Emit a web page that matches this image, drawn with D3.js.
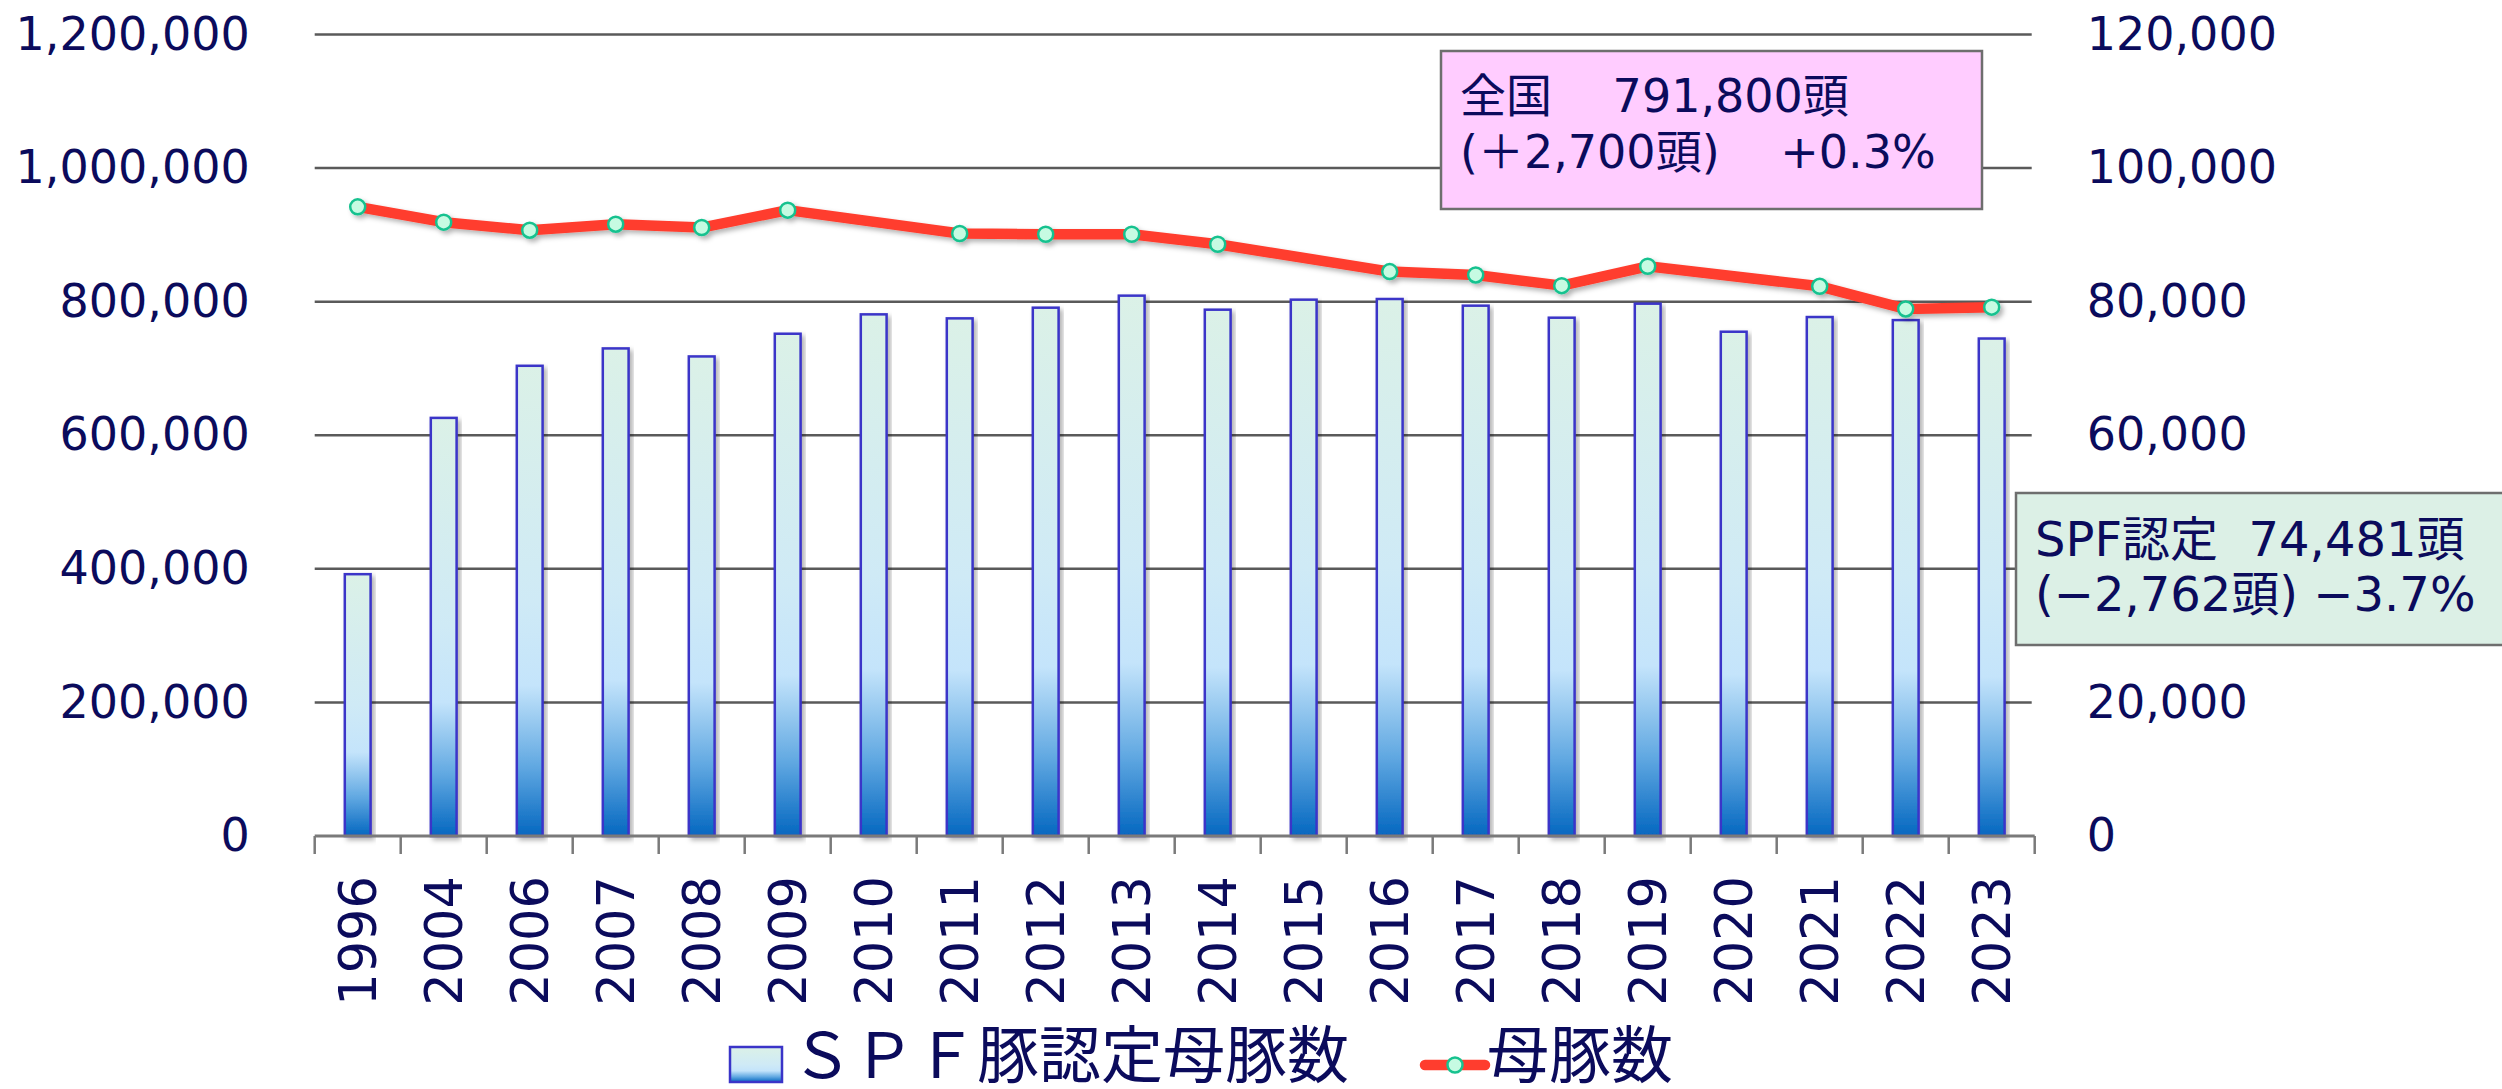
<!DOCTYPE html>
<html>
<head>
<meta charset="utf-8">
<script src="https://cdn.jsdelivr.net/npm/d3@7"></script>
<style>
  body { margin: 0; background: #fff; }
  svg { display: block; }
  text { font-family: "DejaVu Sans", "Noto Sans CJK JP", sans-serif; fill: #0b0b5c; }
  .box-text { white-space: pre; }
</style>
</head>
<body>
<svg width="2502" height="1089"></svg>
<script>
// 年次
const years = ['1996', '2004', '2006', '2007', '2008', '2009', '2010', '2011', '2012', '2013',
               '2014', '2015', '2016', '2017', '2018', '2019', '2020', '2021', '2022', '2023'];
// SPF豚認定母豚数 (right axis)
const spfSows = [39200, 62600, 70400, 73000, 71800, 75200, 78100, 77500, 79100, 80900,
                 78800, 80300, 80400, 79400, 77600, 79700, 75500, 77700, 77243, 74481];
// 母豚数 全国 (left axis), no survey in 2010 / 2015 / 2020
const allSows = [942000, 919000, 907000, 916000, 911000, 937000, null, 902000, 901000, 901000,
                 886000, null, 845000, 840000, 824000, 853000, null, 823000, 789100, 791800];
const leftTicks = [0, 200000, 400000, 600000, 800000, 1000000, 1200000];
const rightTicks = [0, 20000, 40000, 60000, 80000, 100000, 120000];

const boxAll = ['全国　 791,800頭', '(＋2,700頭)　 +0.3%'];
const boxSpf = ['SPF認定  74,481頭', '(−2,762頭) −3.7%'];

const svg = d3.select('svg');
const plot = {l: 314.7, r: 2034.7, t: 34.5, b: 836};

const x = d3.scaleBand().domain(years).range([plot.l, plot.r]);
const yL = d3.scaleLinear().domain([0, 1200000]).range([plot.b, plot.t]);
const yR = d3.scaleLinear().domain([0, 120000]).range([plot.b, plot.t]);

const defs = svg.append('defs');
const grad = defs.append('linearGradient')
    .attr('id', 'barGrad')
    .attr('x1', 0).attr('y1', 0).attr('x2', 0).attr('y2', 1);
[[0, '#dbf1e7'], [0.5, '#cfeaf6'], [0.68, '#c4e4fb'], [0.85, '#62a9e2'], [1, '#0467c0']]
    .forEach(s => grad.append('stop').attr('offset', s[0]).attr('stop-color', s[1]));

const shadow = defs.append('filter').attr('id', 'shadow')
    .attr('x', '-20%').attr('y', '-20%').attr('width', '140%').attr('height', '140%');
shadow.append('feDropShadow')
    .attr('dx', 3).attr('dy', 3).attr('stdDeviation', 2.5)
    .attr('flood-color', '#000').attr('flood-opacity', 0.3);

// gridlines
svg.append('g').selectAll('line')
    .data(leftTicks.slice(1))
    .join('line')
    .attr('x1', plot.l).attr('x2', plot.r - 3)
    .attr('y1', d => yL(d)).attr('y2', d => yL(d))
    .attr('stroke', '#5a5a5a')
    .attr('stroke-width', 2.5);

// bars
const barW = x.bandwidth() * 0.3;
svg.append('g').selectAll('rect')
    .data(years)
    .join('rect')
    .attr('x', d => x(d) + (x.bandwidth() - barW) / 2)
    .attr('y', (d, i) => yR(spfSows[i]))
    .attr('width', barW)
    .attr('height', (d, i) => plot.b - yR(spfSows[i]))
    .attr('fill', 'url(#barGrad)')
    .attr('stroke', '#3a34c8')
    .attr('stroke-width', 2.5)
    .attr('filter', 'url(#shadow)');

// bottom axis with ticks on band edges
const axisG = svg.append('g');
axisG.append('line')
    .attr('x1', plot.l).attr('x2', plot.r)
    .attr('y1', plot.b).attr('y2', plot.b)
    .attr('stroke', '#7a7a7a').attr('stroke-width', 3);
axisG.selectAll('.tick')
    .data(years.map(d => x(d)).concat([plot.r]))
    .join('line')
    .attr('class', 'tick')
    .attr('x1', d => d).attr('x2', d => d)
    .attr('y1', plot.b).attr('y2', plot.b + 18)
    .attr('stroke', '#7a7a7a').attr('stroke-width', 2.5);
axisG.selectAll('.year')
    .data(years)
    .join('text')
    .attr('class', 'year')
    .attr('transform', d => `translate(${x(d) + x.bandwidth() / 2},876) rotate(-90)`)
    .attr('text-anchor', 'end')
    .attr('dy', '0.36em')
    .style('font-size', '51px')
    .text(d => d);

// line
const lineData = years.map((d, i) => ({year: d, v: allSows[i]})).filter(d => d.v != null);
const line = d3.line()
    .x(d => x(d.year) + x.bandwidth() / 2)
    .y(d => yL(d.v));

const lineG = svg.append('g').attr('filter', 'url(#shadow)');
lineG.append('path')
    .datum(lineData)
    .attr('d', line)
    .attr('fill', 'none')
    .attr('stroke', '#ff3d2e')
    .attr('stroke-width', 10.5)
    .attr('stroke-linejoin', 'round');
lineG.selectAll('circle')
    .data(lineData)
    .join('circle')
    .attr('cx', d => x(d.year) + x.bandwidth() / 2)
    .attr('cy', d => yL(d.v))
    .attr('r', 7.5)
    .attr('fill', '#c6fbe2')
    .attr('stroke', '#17c28f')
    .attr('stroke-width', 2.5);

// y axes
const fmt = d3.format(',');
const leftAxis = svg.append('g')
    .attr('transform', `translate(${plot.l},0)`)
    .call(d3.axisLeft(yL).tickValues(leftTicks).tickFormat(fmt).tickSize(0).tickPadding(65));
const rightAxis = svg.append('g')
    .attr('transform', `translate(${plot.r},0)`)
    .call(d3.axisRight(yR).tickValues(rightTicks).tickFormat(fmt).tickSize(0).tickPadding(52));
[leftAxis, rightAxis].forEach(g => {
    g.select('.domain').remove();
    g.selectAll('text')
        .style('font-size', '46px')
        .attr('fill', '#0b0b5c');
    g.attr('font-family', null).attr('font-size', null);
});

// annotation boxes
function addBox(bx, by, bw, bh, fill, lines, tx, ty, gap, fs) {
    const g = svg.append('g');
    g.append('rect')
        .attr('x', bx).attr('y', by)
        .attr('width', bw).attr('height', bh)
        .attr('fill', fill)
        .attr('stroke', '#6e6e6e')
        .attr('stroke-width', 2.5);
    g.selectAll('text')
        .data(lines)
        .join('text')
        .attr('class', 'box-text')
        .attr('x', tx)
        .attr('y', (d, i) => ty + i * gap)
        .style('font-size', fs + 'px')
        .text(d => d);
}
addBox(1441, 51, 541, 158, '#ffccff', boxAll, 1460, 112, 56, 46);
addBox(2016, 493, 520, 152, '#dcf0e6', boxSpf, 2035, 556, 55, 48);

// legend
const legend = svg.append('g');
legend.append('rect')
    .attr('x', 730).attr('y', 1047)
    .attr('width', 52).attr('height', 35)
    .attr('fill', 'url(#barGrad)')
    .attr('stroke', '#3a34c8')
    .attr('stroke-width', 2.5);
legend.append('text')
    .attr('x', 791).attr('y', 1078)
    .style('font-family', '"Noto Sans CJK JP", sans-serif')
    .style('font-size', '62px')
    .text('ＳＰＦ豚認定母豚数');
legend.append('line')
    .attr('x1', 1425).attr('x2', 1485)
    .attr('y1', 1065).attr('y2', 1065)
    .attr('stroke', '#ff3d2e')
    .attr('stroke-width', 10.5)
    .attr('stroke-linecap', 'round');
legend.append('circle')
    .attr('cx', 1455).attr('cy', 1065)
    .attr('r', 7.5)
    .attr('fill', '#c6fbe2')
    .attr('stroke', '#17c28f')
    .attr('stroke-width', 2.5);
legend.append('text')
    .attr('x', 1487).attr('y', 1078)
    .style('font-family', '"Noto Sans CJK JP", sans-serif')
    .style('font-size', '62px')
    .text('母豚数');
</script>
</body>
</html>
